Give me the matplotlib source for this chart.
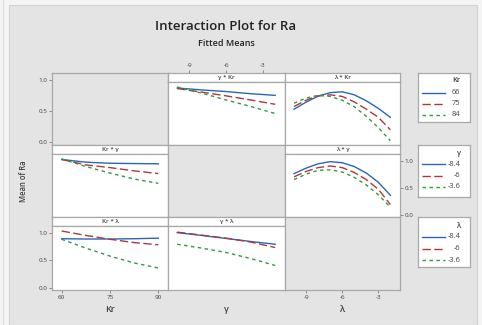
import matplotlib
matplotlib.use("Agg")
import matplotlib.pyplot as plt
from matplotlib.patches import Rectangle
from matplotlib.lines import Line2D

plt.rcParams['font.family'] = ['Open Sans', 'DejaVu Sans']

# ---------------- data ----------------
kr_x = [60, 67.5, 75, 82.5, 90]
g_x = [-10, -8, -6, -4, -2]
lam_x = [-10, -9, -8, -7, -6, -5, -4, -3, -2]

kr_levels = ["66", "75", "84"]
g_levels = ["-8.4", "-6", "-3.6"]
lam_levels = ["-8.4", "-6", "-3.6"]

# gamma * Kr  (x = gamma, lines = Kr)
gKr_66 = [1.01, 0.975, 0.945, 0.905, 0.875]
gKr_75 = [1.00, 0.935, 0.865, 0.79, 0.71]
gKr_84 = [1.03, 0.915, 0.79, 0.67, 0.54]

# lambda * Kr (x = lambda, lines = Kr)
lKr_66 = [0.62, 0.75, 0.86, 0.925, 0.94, 0.885, 0.775, 0.635, 0.47]
lKr_75 = [0.67, 0.785, 0.865, 0.885, 0.855, 0.755, 0.62, 0.47, 0.24]
lKr_84 = [0.73, 0.825, 0.875, 0.855, 0.785, 0.665, 0.49, 0.28, 0.04]

# Kr * gamma (x = Kr, lines = gamma)
Krg_m84 = [1.02, 0.97, 0.95, 0.945, 0.94]
Krg_m6 = [1.02, 0.92, 0.87, 0.81, 0.76]
Krg_m36 = [1.03, 0.89, 0.77, 0.66, 0.58]

# lambda * gamma (x = lambda, lines = gamma)
lg_m84 = [0.76, 0.86, 0.94, 0.98, 0.96, 0.89, 0.77, 0.60, 0.36]
lg_m6 = [0.70, 0.80, 0.87, 0.90, 0.87, 0.78, 0.65, 0.47, 0.19]
lg_m36 = [0.65, 0.75, 0.82, 0.83, 0.79, 0.69, 0.55, 0.37, 0.14]

# Kr * lambda (x = Kr, lines = lambda)
Krl_m84 = [0.89, 0.885, 0.885, 0.89, 0.90]
Krl_m6 = [1.03, 0.95, 0.88, 0.82, 0.78]
Krl_m36 = [0.88, 0.72, 0.575, 0.45, 0.36]

# gamma * lambda (x = gamma, lines = lambda)
gl_m84 = [1.00, 0.95, 0.895, 0.84, 0.79]
gl_m6 = [1.01, 0.955, 0.90, 0.83, 0.73]
gl_m36 = [0.79, 0.72, 0.64, 0.53, 0.405]

kr_ticks = [60, 75, 90]
gl_ticks = [-9, -6, -3]
y_ticks = [0.0, 0.5, 1.0]

# ---------------- style ----------------
W, H = 482, 325
BG = '#e4e4e4'
EDGE = '#a8a8a8'
TXT = '#404040'
COLS = ['#2a66b8', '#b03838', '#2e9a40']
LS = ['-', (0, (6, 2.5)), (0, (2.5, 2.5))]
YLIM = (-0.04, 1.13)
KR_LIM = (57, 93)
GL_LIM = (-10.75, -1.2)

fig = plt.figure(figsize=(W / 100, H / 100), dpi=100)
fig.patch.set_facecolor('#f4f4f4')
bgrect = Rectangle((9 / W, 0), (477 - 9) / W, (H - 5) / H,
                   transform=fig.transFigure, facecolor=BG,
                   edgecolor='#d2d2d2', lw=0.8, zorder=-10)
fig.patches.append(bgrect)
fig.add_artist(Line2D([3 / W, 3 / W], [0, 1], transform=fig.transFigure,
                      color='#dcdcdc', lw=0.8, zorder=-10))


def ax_px(x0, y0, x1, y1, **kw):
    return fig.add_axes([x0 / W, 1 - y1 / H, (x1 - x0) / W, (y1 - y0) / H], **kw)


def style(ax, face='white'):
    ax.set_facecolor(face)
    for s in ax.spines.values():
        s.set_color(EDGE)
        s.set_linewidth(0.9)
    ax.tick_params(length=2, width=0.5, colors='#666666', labelsize=4.5,
                   labelcolor=TXT, pad=1.5)
    ax.set_xticks([])
    ax.set_yticks([])


col_edges = [52, 168, 285, 400]
row_edges = [73, 145, 217, 290]
STRIP = 8.5

panels = {
    (0, 1): ("γ * Kr", g_x, [gKr_66, gKr_75, gKr_84], GL_LIM),
    (0, 2): ("λ * Kr", lam_x, [lKr_66, lKr_75, lKr_84], GL_LIM),
    (1, 0): ("Kr * γ", kr_x, [Krg_m84, Krg_m6, Krg_m36], KR_LIM),
    (1, 2): ("λ * γ", lam_x, [lg_m84, lg_m6, lg_m36], GL_LIM),
    (2, 0): ("Kr * λ", kr_x, [Krl_m84, Krl_m6, Krl_m36], KR_LIM),
    (2, 1): ("γ * λ", g_x, [gl_m84, gl_m6, gl_m36], GL_LIM),
}

axes = {}
for r in range(3):
    for c in range(3):
        x0, x1 = col_edges[c], col_edges[c + 1]
        y0, y1 = row_edges[r], row_edges[r + 1]
        if (r, c) in panels:
            title, xs, series, xlim = panels[(r, c)]
            sax = ax_px(x0, y0, x1, y0 + STRIP)
            style(sax)
            sax.set_xlim(xlim)
            sax.text(0.5, 0.45, title, transform=sax.transAxes, ha='center',
                     va='center', fontsize=4.5, color=TXT, weight='semibold')
            ax = ax_px(x0, y0 + STRIP, x1, y1)
            style(ax)
            for ys, col, ls in zip(series, COLS, LS):
                ax.plot(xs, ys, color=col, ls=ls, lw=1.0)
            ax.set_xlim(xlim)
            ax.set_ylim(YLIM)
            axes[(r, c)] = (ax, sax)
        else:
            ax = ax_px(x0, y0, x1, y1)
            style(ax, BG)
            axes[(r, c)] = (ax, None)

# ticks
a00 = axes[(0, 0)][0]
a00.set_ylim(-0.048, 1.113)
a00.set_yticks(y_ticks)
a00.set_yticklabels(["0.0", "0.5", "1.0"])

a20 = axes[(2, 0)][0]
a20.set_yticks(y_ticks)
a20.set_yticklabels(["0.0", "0.5", "1.0"])
a20.set_xticks(kr_ticks)
a20.set_xticklabels([str(t) for t in kr_ticks])

a12 = axes[(1, 2)][0]
a12.yaxis.tick_right()
a12.set_yticks(y_ticks)
a12.set_yticklabels(["0.0", "0.5", "1.0"])

s01 = axes[(0, 1)][1]
s01.xaxis.tick_top()
s01.set_xticks(gl_ticks)
s01.set_xticklabels([str(t) for t in gl_ticks])

a22 = axes[(2, 2)][0]
a22.set_xlim(GL_LIM)
a22.set_xticks(gl_ticks)
a22.set_xticklabels([str(t) for t in gl_ticks])

# titles & labels
fig.text(226 / W, 1 - 27 / H, "Interaction Plot for Ra", ha='center', va='center',
         fontsize=9.5, color='#222222', weight='semibold')
fig.text(226 / W, 1 - 44 / H, "Fitted Means", ha='center', va='center',
         fontsize=6.5, color='#222222', weight='semibold')
fig.text(23 / W, 1 - 181 / H, "Mean of Ra", rotation=90, ha='center', va='center',
         fontsize=5.5, color=TXT, weight='semibold')
for xc, lab in [(110, "Kr"), (226.5, "γ"), (342, "λ")]:
    fig.text(xc / W, 1 - 309 / H, lab, ha='center', va='center', fontsize=6.5,
             color=TXT, weight='semibold')

# legends
legends = [
    ("Kr", kr_levels, 73, 122, 80, [92.5, 103.5, 114.5]),
    ("γ", g_levels, 145, 197, 153.5, [164, 175.5, 187]),
    ("λ", lam_levels, 217, 267, 226, [236.5, 248.5, 260]),
]
for ttl, labs, y0, y1, ty, eys in legends:
    lax = ax_px(418, y0, 470, y1)
    style(lax)
    lax.set_xlim(418, 470)
    lax.set_ylim(y1, y0)
    lax.text(460.5, ty, ttl, ha='right', va='center', fontsize=5.4, color=TXT,
             weight='semibold')
    for ey, lab, col, ls in zip(eys, labs, COLS, LS):
        lax.plot([422, 445], [ey, ey], color=col, ls=ls, lw=1.0)
        lax.text(460.5, ey, lab, ha='right', va='center', fontsize=5.4, color=TXT)

fig.savefig("out.png", dpi=100, facecolor=fig.get_facecolor())
